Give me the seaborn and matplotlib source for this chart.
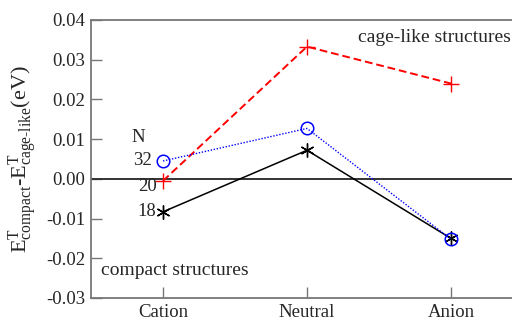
import numpy as np
import pandas as pd
import matplotlib
matplotlib.use('Agg')
import matplotlib.pyplot as plt
import seaborn as sns

# data
categories = ['Cation', 'Neutral', 'Anion']
n18 = [-0.0083, 0.0072, -0.0150]   # black asterisk, solid
n20 = [-0.0005, 0.0333, 0.0240]    # red plus, dashed
n32 = [0.0045, 0.0127, -0.0152]    # blue open circle, dotted
y_ticks = [-0.03, -0.02, -0.01, 0.00, 0.01, 0.02, 0.03, 0.04]

sns.set_style('ticks')
plt.rcParams['font.family'] = ['Liberation Serif', 'DejaVu Serif']
plt.rcParams['mathtext.fontset'] = 'custom'
plt.rcParams['mathtext.rm'] = 'Liberation Serif'
plt.rcParams['mathtext.it'] = 'Liberation Serif:italic'

fig = plt.figure(figsize=(5.12, 3.2), dpi=100)
ax = fig.add_axes([91 / 512, 1 - 298 / 320, 432 / 512, 278 / 320])

x = np.arange(len(categories))
sns.lineplot(x=x, y=n18, ax=ax, color='black', linestyle='-', linewidth=1.1,
             marker=(6, 2, 0), markersize=10, markeredgecolor='black', markeredgewidth=1.0)
sns.lineplot(x=x, y=n20, ax=ax, color='red', linestyle=(0, (4, 2)), linewidth=1.4,
             marker='+', markersize=12, markeredgecolor='red', markeredgewidth=1.0)
sns.lineplot(x=x, y=n32, ax=ax, color='blue', linestyle=(0, (1, 1.2)), linewidth=1.0,
             marker='o', markersize=9, markerfacecolor='none', markeredgecolor='blue',
             markeredgewidth=1.1)

ax.axhline(0, color='#333333', linewidth=1.4, zorder=1)

ax.set_xlim(-0.5, 2.5)
ax.set_ylim(-0.03, 0.04)
ax.set_xticks(x)
ax.set_xticklabels(categories)
ax.set_yticks(y_ticks)
ax.set_yticklabels(['%.2f' % v for v in y_ticks])
ax.tick_params(direction='in', length=8, width=1.0, color='#777777',
               labelsize=13.5, pad=4)
for s in ax.spines.values():
    s.set_color('#777777')
    s.set_linewidth(1.3)

ax.set_ylabel(r'$\mathrm{E}^{\mathrm{T}}_{\mathrm{compact}}\text{-}\mathrm{E}^{\mathrm{T}}_{\mathrm{cage\text{-}like}}\mathrm{(eV)}$',
              fontsize=16)
ax.yaxis.set_label_coords(-0.118, 0.5)

# series labels
ax.text(-0.17, 0.0105, 'N', fontsize=13.5, ha='center', va='center')
ax.text(-0.08, 0.0045, '32', fontsize=13.5, ha='right', va='center')
ax.text(-0.04, -0.0020, '20', fontsize=13.5, ha='right', va='center')
ax.text(-0.05, -0.0083, '18', fontsize=13.5, ha='right', va='center')

ax.text(1.354, 0.0355, 'cage-like structures', fontsize=14, ha='left', va='center')
ax.text(-0.43, -0.0230, 'compact structures', fontsize=14, ha='left', va='center')

fig.savefig('out.png', dpi=100)
